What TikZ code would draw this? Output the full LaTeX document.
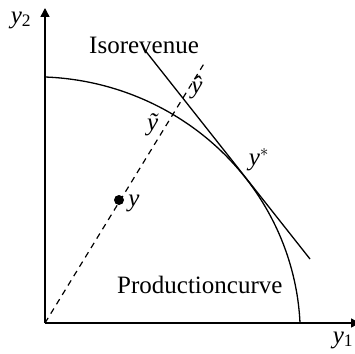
\documentclass[tikz,border=0pt]{standalone}
\usepackage{fontspec}
\setmainfont{Liberation Serif}
\usetikzlibrary{arrows.meta}
\tikzset{
  axis/.style={line width=1.4pt, -{Triangle[length=9pt,width=9pt]}},
  curve/.style={line width=1.3pt},
  dashline/.style={line width=1.2pt, dash pattern=on 6pt off 5pt},
  lbl/.style={font=\fontsize{25}{30}\selectfont, inner sep=0pt},
  dotstyle/.style={circle, fill=black, inner sep=0pt, minimum size=10pt}
}
\begin{document}
\begin{tikzpicture}[x=1pt,y=-1pt]
\useasboundingbox (0,0) rectangle (355,353);
\clip (0,0) rectangle (355,353);
\coordinate (O) at (45,323);
\coordinate (ytop) at (45,8);
\coordinate (xend) at (360,323);
\coordinate (isoA) at (144,49);
\coordinate (isoB) at (310,259);
\coordinate (dtop) at (205,62);
\draw[axis] (O) -- (ytop);
\draw[axis] (O) -- (xend);
% production curve (ellipse arc)
\draw[curve] plot[domain=87.84:2.66, samples=80, smooth] ({35+265.3*cos(\x)}, {335-258.2*sin(\x)});
% isorevenue line
\draw[curve] (isoA) -- (isoB);
% ray from origin
\draw[dashline] (O) -- (dtop);
\node[dotstyle] (ydot) at (119,200) {};
\node[lbl] (ylab) at (134,203) {\textit{y}};
\node[lbl] (ytil) at (153,125) {\textit{ỹ}};
\node[lbl] (yhat) at (197,88) {\textit{ŷ}};
\node[lbl] (ystar) at (259,160) {\textit{y}$^{*}$};
\node[lbl, anchor=base west] (iso) at (89,53) {Isorevenue};
\node[lbl, anchor=base west] (prod) at (117,293) {Productioncurve};
\node[lbl] (y2) at (21,20) {\textit{y}\textsubscript{2}};
\node[lbl] (y1) at (343,340) {\textit{y}\textsubscript{1}};
\end{tikzpicture}
\end{document}
